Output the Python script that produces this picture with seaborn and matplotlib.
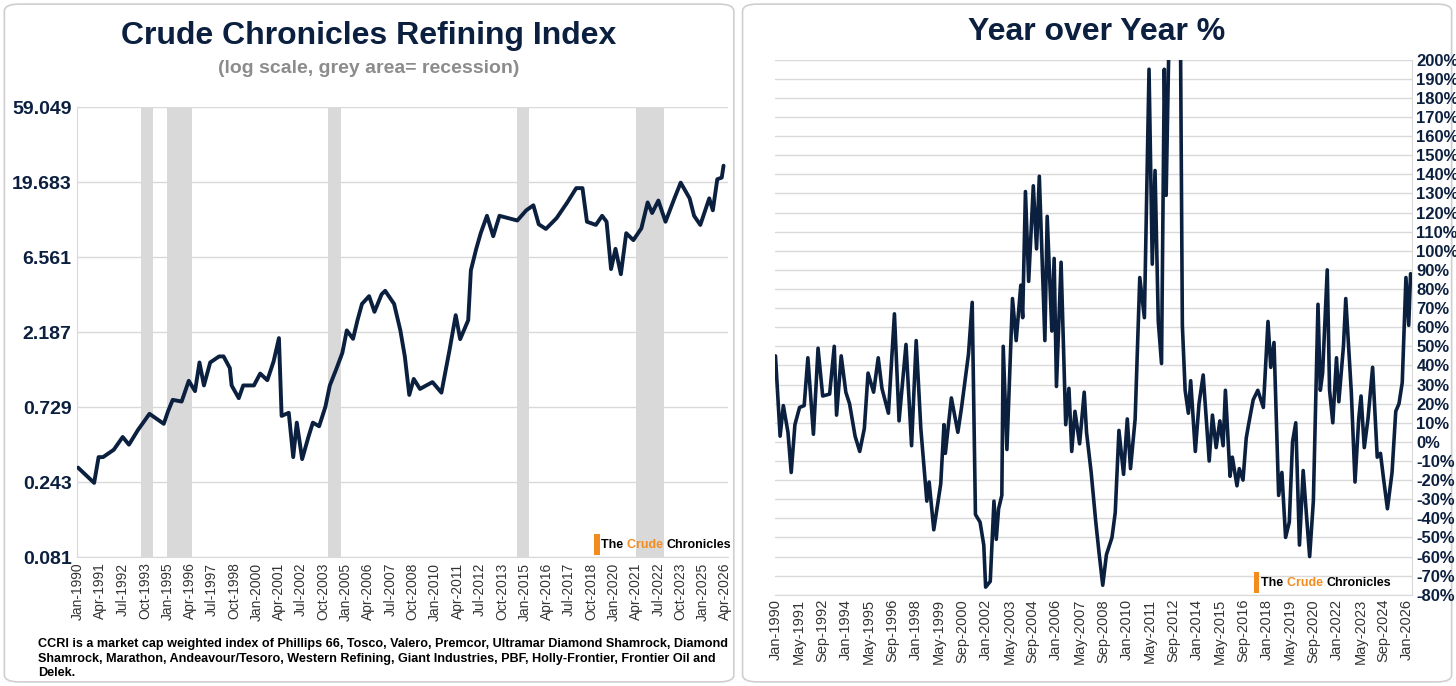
import matplotlib
matplotlib.use("Agg")
import matplotlib.pyplot as plt
import seaborn as sns
import numpy as np
import pandas as pd
from matplotlib.patches import FancyBboxPatch, Rectangle

# index level (decimal year, value)
idx_years = [1990.0, 1990.9, 1991.15, 1991.4, 1992.0, 1992.5, 1992.85, 1993.35, 1994.0, 1994.8,
             1995.05, 1995.3, 1995.8, 1996.2, 1996.55, 1996.8, 1997.05, 1997.4, 1997.9, 1998.15,
             1998.5, 1998.6, 1999.0, 1999.25, 1999.85, 2000.2, 2000.6, 2000.95, 2001.25, 2001.4,
             2001.8, 2002.05, 2002.25, 2002.55, 2002.9, 2003.15, 2003.5, 2003.85, 2004.1, 2004.45,
             2004.8, 2005.05, 2005.4, 2005.65, 2005.9, 2006.3, 2006.6, 2007.0, 2007.2, 2007.7,
             2008.05, 2008.3, 2008.55, 2008.8, 2009.15, 2009.5, 2009.85, 2010.35, 2010.8, 2011.15,
             2011.4, 2011.85, 2012.0, 2012.3, 2012.55, 2012.9, 2013.25, 2013.6, 2014.6, 2015.1,
             2015.5, 2015.8, 2016.2, 2016.8, 2017.4, 2017.9, 2018.25, 2018.5, 2019.0, 2019.35,
             2019.6, 2019.85, 2020.1, 2020.4, 2020.7, 2021.1, 2021.55, 2021.9, 2022.15, 2022.5,
             2022.9, 2023.4, 2023.75, 2024.25, 2024.5, 2024.85, 2025.35, 2025.55, 2025.8, 2026.05,
             2026.15]
idx_vals = [0.30, 0.24, 0.35, 0.35, 0.39, 0.47, 0.42, 0.52, 0.66, 0.57,
            0.69, 0.81, 0.79, 1.07, 0.92, 1.40, 1.00, 1.40, 1.53, 1.53,
            1.29, 1.00, 0.83, 1.00, 1.00, 1.19, 1.08, 1.42, 2.00, 0.64,
            0.67, 0.35, 0.58, 0.34, 0.47, 0.58, 0.55, 0.73, 1.00, 1.26,
            1.61, 2.24, 1.98, 2.60, 3.30, 3.70, 2.94, 3.80, 4.00, 3.30,
            2.24, 1.53, 0.87, 1.10, 0.95, 1.00, 1.05, 0.90, 1.67, 2.80,
            1.97, 2.60, 5.40, 7.40, 9.30, 12.0, 8.90, 12.0, 11.2, 13.0,
            14.0, 10.6, 9.90, 11.6, 14.6, 18.0, 18.0, 11.0, 10.5, 12.0,
            11.0, 5.50, 7.40, 5.10, 9.30, 8.40, 10.0, 14.6, 12.5, 15.0,
            11.0, 15.5, 19.5, 15.5, 12.0, 10.5, 15.5, 13.0, 20.5, 21.0,
            25.0]

# year over year % (x as pixel position along the data span)
yoy_pos = [18, 28, 35, 45, 52, 60, 70, 80, 88, 100, 110, 120, 135, 145, 150, 160, 170, 178, 190, 200,
           210, 218, 230, 240, 248, 262, 275, 285, 300, 312, 322, 332, 345, 350, 360, 375, 382, 385, 398, 412,
           420, 435, 443, 450, 460, 468, 472, 482, 490, 495, 500, 507, 510, 518, 530, 538, 548, 552, 558, 565,
           575, 582, 588, 600, 605, 615, 620, 625, 635, 645, 652, 658, 665, 675, 685, 690, 700, 710, 717, 725,
           733, 745, 752, 760, 770, 778, 785, 795, 805, 815, 825, 832, 838, 845, 852, 858, 862, 868, 880, 893,
           897, 903, 910, 915, 925, 933, 942, 955, 962, 970, 978, 985, 990, 1000, 1005, 1015, 1020, 1028, 1035, 1040,
           1050, 1060, 1072, 1082, 1088, 1095, 1105, 1112, 1120, 1128, 1135, 1142, 1150, 1158, 1165, 1172, 1180, 1190, 1195, 1200,
           1210, 1215, 1222, 1230, 1235, 1245, 1250, 1262, 1270, 1278, 1283, 1290, 1298, 1308, 1318, 1325, 1332, 1340, 1350, 1358,
           1365, 1372, 1380, 1386, 1390]
yoy_pct = [45, 3, 19, 5, -16, 9, 18, 19, 44, 4, 49, 24, 25, 50, 14, 45, 26, 20, 3, -5,
           7, 36, 26, 44, 28, 15, 67, 11, 51, -2, 53, 7, -31, -21, -46, -22, 9, -6, 23, 5,
           18, 46, 73, -38, -42, -54, -76, -73, -31, -51, -35, -28, 50, -4, 75, 53, 82, 65, 131, 84,
           134, 101, 139, 53, 118, 58, 96, 29, 94, 9, 28, -5, 16, -1, 26, 5, -16, -42, -58, -75,
           -59, -50, -37, 6, -17, 12, -14, 12, 86, 65, 195, 93, 142, 63, 41, 195, 129, 210, 240, 210,
           61, 27, 15, 32, -5, 20, 35, -10, 14, -3, 11, -2, 27, -18, -8, -23, -14, -20, 2, 9,
           22, 27, 18, 63, 39, 52, -28, -16, -50, -42, 0, 10, -54, -15, -38, -60, -31, 72, 27, 36,
           90, 27, 10, 44, 21, 50, 75, 26, -21, 12, 24, -3, 12, 39, -8, -6, -20, -35, -16, 16,
           20, 31, 86, 61, 88]

recessions = [(1993.5, 1994.2), (1995.0, 1996.4), (2004.0, 2004.75), (2014.6, 2015.25), (2021.25, 2022.8)]

navy = "#0b1f3f"
months = ["Jan", "Feb", "Mar", "Apr", "May", "Jun", "Jul", "Aug", "Sep", "Oct", "Nov", "Dec"]

def month_ticks(step, last):
    pos, lab = [], []
    m = 0
    while m <= last:
        pos.append(1990 + m / 12)
        lab.append(f"{months[m % 12]}-{1990 + m // 12}")
        m += step
    return pos, lab

sns.set_style("white")
plt.rcParams['font.family'] = ['Liberation Sans', 'DejaVu Sans']

fig = plt.figure(figsize=(14.56, 6.86), dpi=100)
for x0, w in [(0.003, 0.501), (0.510, 0.487)]:
    fig.patches.append(FancyBboxPatch((x0, 0.006), w, 0.988, boxstyle="round,pad=0,rounding_size=0.01",
                                      transform=fig.transFigure, fc="white", ec="#cfcfcf", lw=1.2,
                                      zorder=-10))

# ---- left: index
ax1 = fig.add_axes([0.053, 0.188, 0.447, 0.656])
ax1.patch.set_alpha(0)
for a, b in recessions:
    ax1.axvspan(a, b, color="#d9d9d9", lw=0, zorder=0)
df1 = pd.DataFrame({"year": idx_years, "value": idx_vals})
sns.lineplot(data=df1, x="year", y="value", ax=ax1, color=navy, lw=2.8, zorder=3)
ax1.set_yscale("log", base=3)
yt = [0.081, 0.243, 0.729, 2.187, 6.561, 19.683, 59.049]
ax1.set_yticks(yt)
ax1.set_yticklabels([f"{v:.3f}" for v in yt], fontsize=14, fontweight="bold", color=navy)
ax1.minorticks_off()
ax1.set_ylim(0.081, 59.049)
ax1.set_xlim(1989.95, 2026.4)
p, l = month_ticks(15, 12 * 36 + 3)
ax1.set_xticks(p)
ax1.set_xticklabels(l, rotation=90, fontsize=10, color="#333333")
ax1.grid(axis="y", color="#d9d9d9", lw=1)
for s in ["top", "right"]:
    ax1.spines[s].set_visible(False)
ax1.spines["left"].set_color("#d9d9d9")
ax1.spines["bottom"].set_color("#d9d9d9")
ax1.set_xlabel("")
ax1.set_ylabel("")
ax1.tick_params(axis="both", length=0, pad=4)

fig.text(0.253, 0.948, "Crude Chronicles Refining Index", ha="center", va="center",
         fontsize=23, fontweight="bold", color=navy)
fig.text(0.253, 0.9, "(log scale, grey area= recession)", ha="center", va="center",
         fontsize=14, fontweight="bold", color="#8c8c8c")
fig.text(0.026, 0.040, "CCRI is a market cap weighted index of Phillips 66, Tosco, Valero, Premcor, Ultramar Diamond Shamrock, Diamond\n"
         "Shamrock, Marathon, Andeavour/Tesoro, Western Refining, Giant Industries, PBF, Holly-Frontier, Frontier Oil and\n"
         "Delek.", ha="left", va="center", fontsize=9.1, fontweight="bold", color="black", linespacing=1.25)

# ---- right: year over year
ax2 = fig.add_axes([0.532, 0.133, 0.438, 0.780])
ax2.patch.set_alpha(0)
span0, span1 = 1990.0, 2026.2
yoy_years = [span0 + (p_ - 18) / (1390 - 18) * (span1 - span0) for p_ in yoy_pos]
df2 = pd.DataFrame({"year": yoy_years, "pct": yoy_pct})
sns.lineplot(data=df2, x="year", y="pct", ax=ax2, color=navy, lw=2.6, zorder=3)
ax2.set_ylim(-80, 200)
ax2.set_yticks(range(-80, 201, 10))
ax2.set_yticklabels([f"{v}%" for v in range(-80, 201, 10)], fontsize=12, fontweight="bold", color=navy)
ax2.yaxis.tick_right()
ax2.set_xlim(1989.95, 2026.3)
p, l = month_ticks(16, 12 * 36)
ax2.set_xticks(p)
ax2.set_xticklabels(l, rotation=90, fontsize=10.5, color="#333333")
ax2.grid(axis="y", color="#d9d9d9", lw=1)
for s in ["top", "left"]:
    ax2.spines[s].set_visible(False)
ax2.spines["right"].set_color("#d9d9d9")
ax2.spines["bottom"].set_color("#d9d9d9")
ax2.set_xlabel("")
ax2.set_ylabel("")
ax2.tick_params(axis="both", length=0, pad=3)
fig.text(0.753, 0.953, "Year over Year %", ha="center", va="center",
         fontsize=23, fontweight="bold", color=navy)

# logos
def logo(x, y):
    fig.patches.append(Rectangle((x - 0.005, y - 0.014), 0.004, 0.03, transform=fig.transFigure,
                                 fc="#f28c1e", ec="none"))
    t1 = fig.text(x, y, "The ", fontsize=9, fontweight="bold", color="black", va="center")
    fig.canvas.draw()
    x2 = x + t1.get_window_extent().width / fig.bbox.width
    t2 = fig.text(x2, y, "Crude ", fontsize=9, fontweight="bold", color="#f28c1e", va="center")
    fig.canvas.draw()
    x3 = x2 + t2.get_window_extent().width / fig.bbox.width
    fig.text(x3, y, "Chronicles", fontsize=9, fontweight="bold", color="black", va="center")

logo(0.413, 0.205)
logo(0.866, 0.15)

fig.savefig("out.png", dpi=100, facecolor="white")
